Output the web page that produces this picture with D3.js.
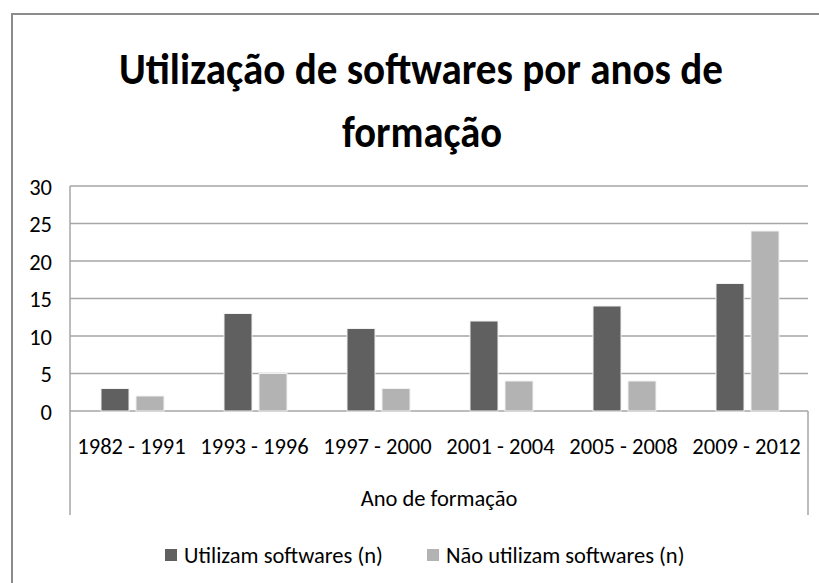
<!DOCTYPE html>
<meta charset="utf-8">
<script src="https://cdn.jsdelivr.net/npm/d3@7"></script>
<style type="text/css">
    body { margin: 0; background: #fff; }
    text { font-family: Carlito, Calibri, Lato, sans-serif; fill: #000; }
    .title { font-weight: bold; }
    .grid line { stroke: #a6a6a6; stroke-width: 1.5; }
</style>
<body>
<script>
    // data
    var periods = ["1982 - 1991", "1993 - 1996", "1997 - 2000", "2001 - 2004", "2005 - 2008", "2009 - 2012"];
    var usam = [3, 13, 11, 12, 14, 17];
    var naoUsam = [2, 5, 3, 4, 4, 24];
    var seriesNames = ["Utilizam softwares (n)", "Não utilizam softwares (n)"];
    var seriesColors = ["#606060", "#b3b3b3"];
    var yTicks = [0, 5, 10, 15, 20, 25, 30];

    var width = 819, height = 583;
    var plot = {left: 70, right: 808, top: 186, bottom: 411};
    var labelSize = "22.5px";

    var svg = d3.select("body")
        .append("svg")
        .attr("width", width)
        .attr("height", height);

    // outer chart frame
    svg.append("rect")
        .attr("x", 12)
        .attr("y", 14)
        .attr("width", 830)
        .attr("height", 600)
        .style("fill", "none")
        .style("stroke", "#8c8c8c")
        .style("stroke-width", 2);

    var xScale = d3.scaleBand().domain(periods).range([plot.left, plot.right]);
    var yScale = d3.scaleLinear().domain([0, 30]).range([plot.bottom, plot.top]);

    // gridlines
    svg.append("g")
        .attr("class", "grid")
        .selectAll("line")
        .data(yTicks)
        .enter()
        .append("line")
        .attr("x1", plot.left)
        .attr("x2", plot.right)
        .attr("y1", function(d){ return yScale(d); })
        .attr("y2", function(d){ return yScale(d); });

    // y axis labels
    var yAxis = svg.append("g")
        .attr("transform", "translate(" + plot.left + ",0)")
        .call(d3.axisLeft(yScale).tickValues(yTicks).tickSize(0).tickPadding(18));
    yAxis.select(".domain").remove();
    yAxis.selectAll("text")
        .style("font-size", labelSize)
        .style("font-family", "Carlito, Calibri, Lato, sans-serif")
        .attr("fill", "#000")
        .attr("dy", "0.36em");

    // value axis line + category axis box sides
    svg.append("line")
        .attr("x1", plot.left).attr("x2", plot.left)
        .attr("y1", plot.top).attr("y2", 515)
        .style("stroke", "#a6a6a6").style("stroke-width", 1.5);
    svg.append("line")
        .attr("x1", plot.right).attr("x2", plot.right)
        .attr("y1", plot.bottom).attr("y2", 515)
        .style("stroke", "#a6a6a6").style("stroke-width", 1.5);

    // bars
    var barW = 28, innerGap = 7;
    var rows = periods.map(function(p, i){ return {p: p, v: [usam[i], naoUsam[i]]}; });
    rows.forEach(function(r){
        r.v.forEach(function(v, s){
            var cx = xScale(r.p) + xScale.bandwidth() / 2;
            var x0 = s === 0 ? cx - innerGap / 2 - barW + 1 : cx + innerGap / 2 + 1;
            svg.append("rect")
                .attr("x", x0)
                .attr("y", yScale(v))
                .attr("width", barW)
                .attr("height", yScale(0) - yScale(v))
                .style("fill", seriesColors[s])
                .style("stroke", "#f2f2f2")
                .style("stroke-width", 1);
        });
    });

    // category labels
    var xAxis = svg.append("g")
        .attr("transform", "translate(0," + plot.bottom + ")")
        .call(d3.axisBottom(xScale).tickSize(0).tickPadding(27));
    xAxis.select(".domain").remove();
    xAxis.selectAll("text")
        .style("font-size", labelSize)
        .style("font-family", "Carlito, Calibri, Lato, sans-serif")
        .attr("fill", "#000");

    // axis title
    svg.append("text")
        .attr("x", (plot.left + plot.right) / 2)
        .attr("y", 506)
        .attr("text-anchor", "middle")
        .style("font-size", labelSize)
        .text("Ano de formação");

    // chart title
    svg.append("text")
        .attr("class", "title")
        .attr("x", 421)
        .attr("y", 84)
        .attr("text-anchor", "middle")
        .attr("textLength", 604)
        .attr("lengthAdjust", "spacingAndGlyphs")
        .style("font-size", "44px")
        .text("Utilização de softwares por anos de");
    svg.append("text")
        .attr("class", "title")
        .attr("x", 422)
        .attr("y", 147)
        .attr("text-anchor", "middle")
        .attr("textLength", 160)
        .attr("lengthAdjust", "spacingAndGlyphs")
        .style("font-size", "44px")
        .text("formação");

    // legend
    var legendX = [165, 427];
    seriesNames.forEach(function(name, i){
        svg.append("rect")
            .attr("x", legendX[i])
            .attr("y", 549)
            .attr("width", 12)
            .attr("height", 12)
            .style("fill", seriesColors[i]);
        svg.append("text")
            .attr("x", legendX[i] + 19)
            .attr("y", 563)
            .style("font-size", labelSize)
            .text(name);
    });
</script>
</body>
